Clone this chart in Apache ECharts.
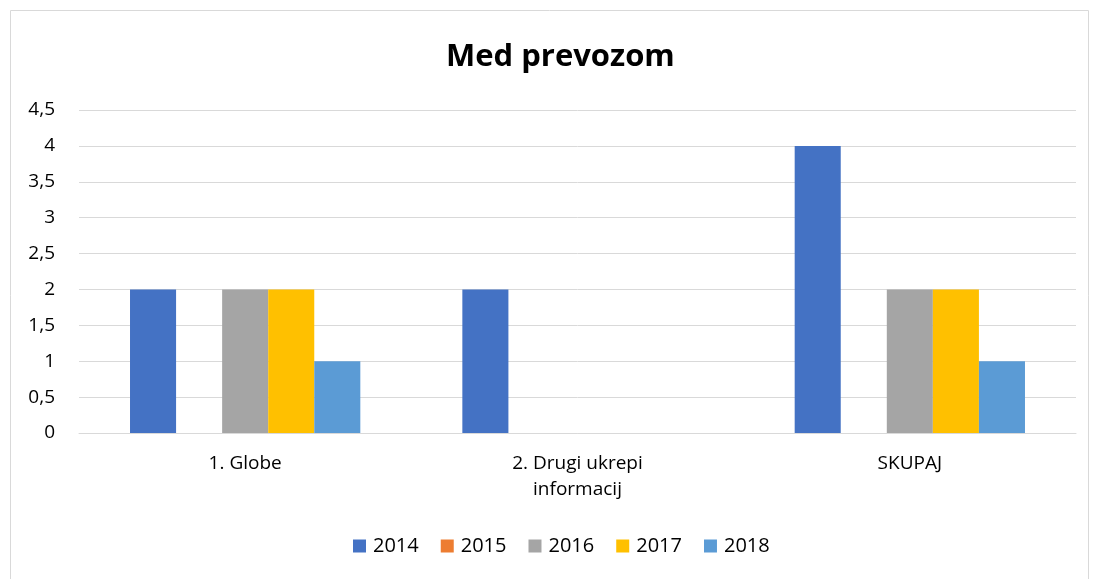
<!DOCTYPE html>
<html>
<head>
<meta charset="utf-8">
<script src="https://cdn.jsdelivr.net/npm/echarts@6/dist/echarts.min.js"></script>
<style>html,body{margin:0;padding:0;background:#fff}#c{width:1094px;height:579px}</style>
</head>
<body>
<div id="c"></div>
<script>
const categories = ['1. Globe', '2. Drugi ukrepi\ninformacij', 'SKUPAJ'];
const seriesNames = ['2014', '2015', '2016', '2017', '2018'];
const v2014 = [2, 2, 4];
const v2015 = [0, 0, 0];
const v2016 = [2, 0, 2];
const v2017 = [2, 0, 2];
const v2018 = [1, 0, 1];
const colors = ['#4472C4', '#ED7D31', '#A5A5A5', '#FFC000', '#5B9BD5'];
const values = [v2014, v2015, v2016, v2017, v2018];
const font = '"Open Sans", "Liberation Sans", sans-serif';

const chart = echarts.init(document.getElementById('c'));
chart.setOption({
  animation: false,
  color: colors,
  textStyle: { fontFamily: font },
  graphic: [{
    type: 'rect', left: 8, top: 8, z: -1,
    shape: { width: 1078, height: 570 },
    style: { fill: 'none', stroke: '#d9d9d9', lineWidth: 1 }
  }],
  title: {
    text: 'Med prevozom', left: 441, top: 37,
    textStyle: { fontFamily: font, fontWeight: 'bold', fontSize: 31, color: '#000' }
  },
  legend: {
    bottom: 18, left: 348, itemWidth: 13, itemHeight: 13, itemGap: 22,
    icon: 'rect', data: seriesNames,
    textStyle: { fontFamily: font, fontSize: 20, color: '#000', padding: [0, 0, 0, 2] }
  },
  grid: { left: 79, right: 18, top: 110, bottom: 146, containLabel: false },
  xAxis: {
    type: 'category', data: categories,
    axisLine: { lineStyle: { color: '#d9d9d9', width: 1 } },
    axisTick: { show: false },
    axisLabel: { color: '#000', fontSize: 19, fontFamily: font, margin: 18, lineHeight: 26 }
  },
  yAxis: {
    type: 'value', min: 0, max: 4.5, interval: 0.5,
    axisLine: { show: false }, axisTick: { show: false },
    splitLine: { lineStyle: { color: '#d9d9d9', width: 1 } },
    axisLabel: {
      color: '#000', fontSize: 19, fontFamily: font, margin: 24,
      formatter: v => String(v).replace('.', ',')
    }
  },
  series: seriesNames.map((n, i) => ({
    name: n, type: 'bar', data: values[i],
    barGap: '0%', barCategoryGap: '30.7%',
    itemStyle: { color: colors[i] }
  }))
});
</script>
</body>
</html>
